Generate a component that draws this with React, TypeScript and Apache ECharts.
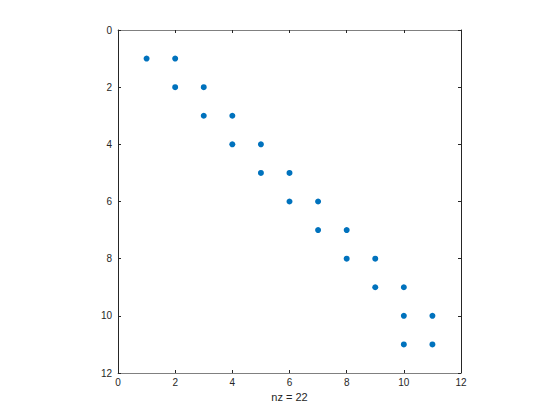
import React, { useEffect, useRef } from "react";
import * as echarts from "echarts";

const colIdx = [1, 2, 2, 3, 3, 4, 4, 5, 5, 6, 6, 7, 7, 8, 8, 9, 9, 10, 10, 11, 10, 11];
const rowIdx = [1, 1, 2, 2, 3, 3, 4, 4, 5, 5, 6, 6, 7, 7, 8, 8, 9, 9, 10, 10, 11, 11];
const xLabel = "nz = 22";

export default function App() {
  const ref = useRef<HTMLDivElement>(null);
  useEffect(() => {
    if (!ref.current) return;
    const chart = echarts.init(ref.current, undefined, { renderer: "svg" });
    const font = "'Liberation Sans', Arial, Helvetica, sans-serif";
    const txt = "#262626";
    const data = colIdx.map((c, i) => [c, rowIdx[i]]);
    const common = {
      min: 0,
      max: 12,
      interval: 2,
      splitLine: { show: false },
      axisTick: { show: true, inside: true, length: 3, lineStyle: { color: txt } },
    };
    chart.setOption({
      animation: false,
      backgroundColor: "#ffffff",
      grid: { left: 118, right: 99, top: 30, bottom: 47, containLabel: false },
      xAxis: [
        {
          ...common,
          type: "value",
          position: "bottom",
          name: xLabel,
          nameLocation: "middle",
          nameGap: 17,
          nameTextStyle: { color: txt, fontFamily: font, fontSize: 11 },
          axisLine: { onZero: false, lineStyle: { color: "#808080", width: 1 } },
          axisLabel: { color: txt, fontFamily: font, fontSize: 10, margin: 4 },
        },
        {
          ...common,
          type: "value",
          position: "top",
          axisLine: { onZero: false, lineStyle: { color: "#808080", width: 1 } },
          axisLabel: { show: false },
        },
      ],
      yAxis: [
        {
          ...common,
          type: "value",
          inverse: true,
          position: "left",
          axisLine: { onZero: false, lineStyle: { color: txt, width: 1 } },
          axisLabel: { color: txt, fontFamily: font, fontSize: 10, margin: 6 },
        },
        {
          ...common,
          type: "value",
          inverse: true,
          position: "right",
          axisLine: { onZero: false, lineStyle: { color: txt, width: 1 } },
          axisLabel: { show: false },
        },
      ],
      series: [
        {
          type: "scatter",
          xAxisIndex: 0,
          yAxisIndex: 0,
          data,
          symbol: "circle",
          symbolSize: 6,
          itemStyle: { color: "#0072BD", opacity: 1 },
        },
      ],
    });
    return () => chart.dispose();
  }, []);
  return <div ref={ref} style={{ width: 560, height: 420, position: "absolute", left: 0, top: 0 }} />;
}
